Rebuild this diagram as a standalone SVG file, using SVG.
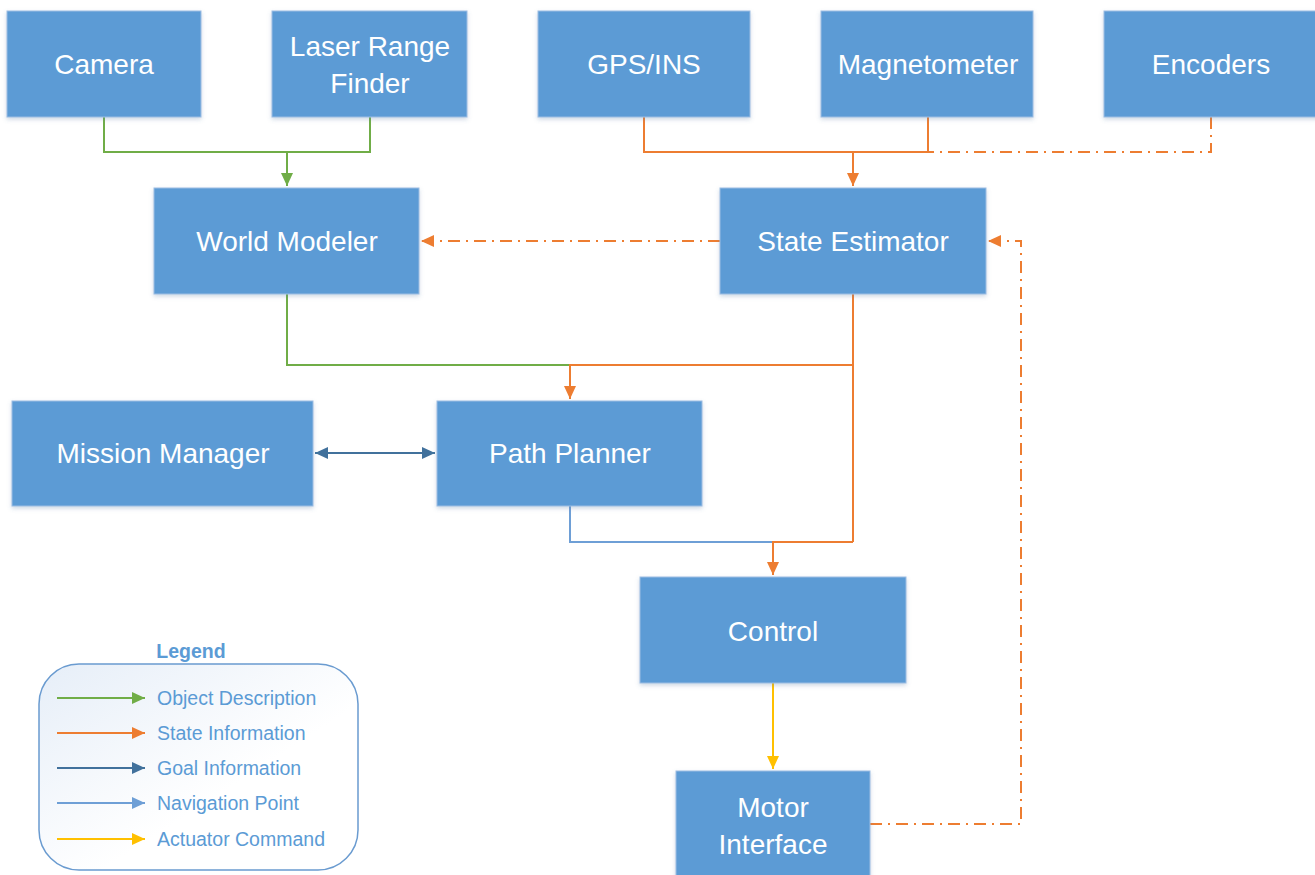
<svg xmlns="http://www.w3.org/2000/svg" width="1315" height="875" viewBox="0 0 1315 875">
<defs>
<style>
.box{fill:#5B9BD5;stroke:#9DBDE3;stroke-width:1;filter:url(#sh)}
.lbl{font-family:"Liberation Sans",Arial,sans-serif;font-size:28px;fill:#ffffff;text-anchor:middle}
.c{fill:none;stroke-width:2}
.g{stroke:#70AD47}
.o{stroke:#ED7D31}
.db{stroke:#41719C}
.lb{stroke:#6E9FD6}
.y{stroke:#FFC000}
.dd{stroke-dasharray:12 6 2 6}
.lt{font-family:"Liberation Sans",Arial,sans-serif;font-size:19.5px;fill:#5B9BD5}
</style>
<filter id="sh" x="-10%" y="-10%" width="120%" height="130%">
<feDropShadow dx="0" dy="2" stdDeviation="2" flood-color="#5B7FA8" flood-opacity="0.3"/>
</filter>
<linearGradient id="lg" x1="0" y1="0" x2="1" y2="1">
<stop offset="0" stop-color="#E6EEF8"/>
<stop offset="0.6" stop-color="#FFFFFF"/>
</linearGradient>
<marker id="aG" markerUnits="userSpaceOnUse" markerWidth="14" markerHeight="14" refX="13" refY="6" orient="auto"><path d="M0,0 L13,6 L0,12 z" fill="#70AD47"/></marker>
<marker id="aO" markerUnits="userSpaceOnUse" markerWidth="14" markerHeight="14" refX="13" refY="6" orient="auto"><path d="M0,0 L13,6 L0,12 z" fill="#ED7D31"/></marker>
<marker id="aDB" markerUnits="userSpaceOnUse" markerWidth="14" markerHeight="14" refX="13" refY="6" orient="auto-start-reverse"><path d="M0,0 L13,6 L0,12 z" fill="#41719C"/></marker>
<marker id="aLB" markerUnits="userSpaceOnUse" markerWidth="14" markerHeight="14" refX="13" refY="6" orient="auto"><path d="M0,0 L13,6 L0,12 z" fill="#6E9FD6"/></marker>
<marker id="aY" markerUnits="userSpaceOnUse" markerWidth="14" markerHeight="14" refX="13" refY="6" orient="auto"><path d="M0,0 L13,6 L0,12 z" fill="#FFC000"/></marker>
</defs>
<rect width="1315" height="875" fill="#ffffff"/>

<g id="connectors">
<path class="c g" d="M104,117 V152 H370 V117"/>
<path class="c g" d="M287,152 V186" marker-end="url(#aG)"/>
<path class="c o" d="M644,117 V152 H928 V117"/>
<path class="c o dd" d="M1211,117 V152 H853"/>
<path class="c o" d="M853,152 V186" marker-end="url(#aO)"/>
<path class="c o dd" d="M720,241 H421" marker-end="url(#aO)"/>
<path class="c g" d="M287,294 V365 H570"/>
<path class="c o" d="M853,294 V542"/>
<path class="c o" d="M853,365 H570 V399" marker-end="url(#aO)"/>
<path class="c db" d="M315,453 H435" marker-start="url(#aDB)" marker-end="url(#aDB)"/>
<path class="c lb" d="M570,506 V542 H773"/>
<path class="c o" d="M853,542 H773 V575" marker-end="url(#aO)"/>
<path class="c y" d="M773,683 V769" marker-end="url(#aY)"/>
<path class="c o dd" d="M870,824 H1021 V241 H988" marker-end="url(#aO)"/>
</g>

<g id="camera"><rect class="box" x="7" y="11" width="194" height="106"/><text class="lbl" x="104" y="74">Camera</text></g>
<g id="laser"><rect class="box" x="272" y="11" width="195" height="106"/><text class="lbl" x="370" y="56">Laser Range</text><text class="lbl" x="370" y="93">Finder</text></g>
<g id="gps"><rect class="box" x="538" y="11" width="212" height="106"/><text class="lbl" x="644" y="74">GPS/INS</text></g>
<g id="magnetometer"><rect class="box" x="821" y="11" width="212" height="106"/><text class="lbl" x="928" y="74">Magnetometer</text></g>
<g id="encoders"><rect class="box" x="1104" y="11" width="220" height="106"/><text class="lbl" x="1211" y="74">Encoders</text></g>
<g id="world-modeler"><rect class="box" x="154" y="188" width="265" height="106"/><text class="lbl" x="287" y="251">World Modeler</text></g>
<g id="state-estimator"><rect class="box" x="720" y="188" width="266" height="106"/><text class="lbl" x="853" y="251">State Estimator</text></g>
<g id="mission-manager"><rect class="box" x="12" y="401" width="301" height="105"/><text class="lbl" x="163" y="463">Mission Manager</text></g>
<g id="path-planner"><rect class="box" x="437" y="401" width="265" height="105"/><text class="lbl" x="570" y="463">Path Planner</text></g>
<g id="control"><rect class="box" x="640" y="577" width="266" height="106"/><text class="lbl" x="773" y="641">Control</text></g>
<g id="motor-interface"><rect class="box" x="676" y="771" width="194" height="110"/><text class="lbl" x="773" y="817">Motor</text><text class="lbl" x="773" y="854">Interface</text></g>

<g id="legend">
<text x="191" y="658" font-family="Liberation Sans,Arial,sans-serif" font-size="19.5" font-weight="bold" fill="#5B9BD5" text-anchor="middle">Legend</text>
<rect x="39" y="664" width="319" height="206" rx="40" ry="40" fill="url(#lg)" stroke="#6A9BD0" stroke-width="1.5"/>
<line class="c g" x1="57" y1="698" x2="145" y2="698" marker-end="url(#aG)"/>
<line class="c o" x1="57" y1="733" x2="145" y2="733" marker-end="url(#aO)"/>
<line class="c db" x1="57" y1="768" x2="145" y2="768" marker-end="url(#aDB)"/>
<line class="c lb" x1="57" y1="803" x2="145" y2="803" marker-end="url(#aLB)"/>
<line class="c y" x1="57" y1="839" x2="145" y2="839" marker-end="url(#aY)"/>
<text class="lt" x="157" y="705">Object Description</text>
<text class="lt" x="157" y="740">State Information</text>
<text class="lt" x="157" y="775">Goal Information</text>
<text class="lt" x="157" y="810">Navigation Point</text>
<text class="lt" x="157" y="846">Actuator Command</text>
</g>
</svg>
